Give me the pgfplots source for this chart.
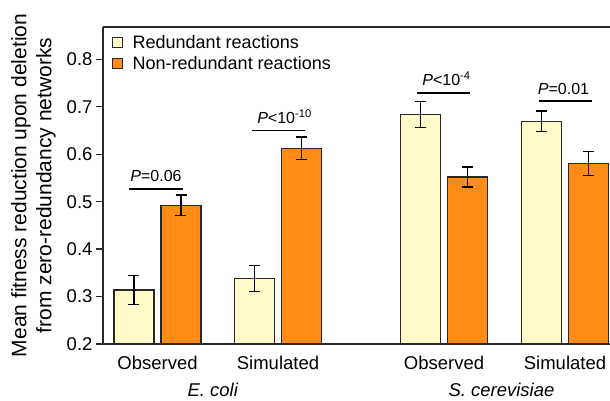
\documentclass[border=0pt]{standalone}
\usepackage{fontspec}
\setmainfont{Liberation Sans}
\usepackage{pgfplots}
\pgfplotsset{compat=1.18}
\definecolor{redyel}{RGB}{255,250,200}
\definecolor{nonorg}{RGB}{255,140,22}
\definecolor{edgegray}{RGB}{40,40,40}
\begin{document}
\begin{tikzpicture}
\useasboundingbox (-103pt,-57pt) rectangle (507pt,344pt);
\begin{axis}[
  at={(0pt,0pt)}, anchor=south west,
  scale only axis, width=507pt, height=317pt,
  xmin=1.03, xmax=6.10, ymin=0.2, ymax=0.868,
  axis x line*=box, axis y line*=left,
  axis line style={line width=1.3pt, edgegray},
  ytick={0.2,0.3,0.4,0.5,0.6,0.7,0.8},
  yticklabels={0.2,0.3,0.4,0.5,0.6,0.7,0.8},
  xtick={1.575,2.78,4.44,5.65},
  xticklabels={Observed,Simulated,Observed,Simulated},
  xtick style={draw=none},
  ytick style={line width=1.3pt, edgegray},
  tick align=outside, major tick length=7pt,
  tick label style={font=\fontsize{18.5}{21}\selectfont},
  xticklabel style={yshift=-2pt},
  ylabel={Mean fitness reduction upon deletion\\from zero-redundancy networks},
  ylabel style={font=\fontsize{21}{25}\selectfont, align=center, at={([xshift=-47pt]axis description cs:0,0.5)}, anchor=south, inner sep=0pt},
  legend style={at={(axis description cs:0,1)}, anchor=north west, xshift=6pt, yshift=-4pt, draw=none, fill=none,
    font=\fontsize{18}{20}\selectfont, row sep=2.5pt, cells={anchor=west}},
  clip=true,
]
\addplot[ybar, bar width=0.40, bar shift=0, fill=redyel, draw=edgegray, line width=1.3pt,
  legend image code/.code={\draw[fill=redyel, draw=edgegray, line width=1pt] (0pt,-5pt) rectangle (10pt,5pt); \path[draw=none, fill=none] (0pt,0pt) -- (18pt,0pt);},
  error bars/.cd, y dir=both, y explicit,
  error bar style={black, line width=1.2pt},
  error mark options={black, rotate=90, mark size=5.5pt, line width=1.2pt}]
  coordinates {(1.34,0.314) +- (0,0.031) (2.545,0.338) +- (0,0.028) (4.205,0.684) +- (0,0.027) (5.415,0.669) +- (0,0.022)};
\addlegendentry{Redundant reactions}
\addplot[ybar, bar width=0.40, bar shift=0, fill=nonorg, draw=edgegray, line width=1.3pt,
  legend image code/.code={\draw[fill=nonorg, draw=edgegray, line width=1pt] (0pt,-5pt) rectangle (10pt,5pt); \path[draw=none, fill=none] (0pt,0pt) -- (18pt,0pt);},
  error bars/.cd, y dir=both, y explicit,
  error bar style={black, line width=1.2pt},
  error mark options={black, rotate=90, mark size=5.5pt, line width=1.2pt}]
  coordinates {(1.81,0.492) +- (0,0.022) (3.015,0.612) +- (0,0.024) (4.675,0.552) +- (0,0.021) (5.885,0.580) +- (0,0.025)};
\addlegendentry{Non-redundant reactions}
% significance lines
\addplot[black, line width=1.4pt, forget plot] coordinates {(1.29,0.527) (1.83,0.527)};
\addplot[black, line width=1.4pt, forget plot] coordinates {(2.52,0.650) (3.05,0.650)};
\addplot[black, line width=1.4pt, forget plot] coordinates {(4.17,0.729) (4.70,0.729)};
\addplot[black, line width=1.4pt, forget plot] coordinates {(5.39,0.712) (5.92,0.712)};
\node[anchor=base, yshift=7pt, font=\fontsize{16}{19}\selectfont] at (axis cs:1.56,0.527) {\textit{P}=0.06};
\node[anchor=base, yshift=7pt, xshift=6pt, font=\fontsize{16}{19}\selectfont] at (axis cs:2.785,0.650) {\textit{P}<10\textsuperscript{-10}};
\node[anchor=base, yshift=7pt, xshift=3pt, font=\fontsize{16}{19}\selectfont] at (axis cs:4.435,0.729) {\textit{P}<10\textsuperscript{-4}};
\node[anchor=base, yshift=7pt, xshift=-2pt, font=\fontsize{16}{19}\selectfont] at (axis cs:5.655,0.712) {\textit{P}=0.01};
\end{axis}
\node[font=\fontsize{18.5}{21}\selectfont] at (110pt,-46pt) {\textit{E. coli}};
\node[font=\fontsize{18.5}{21}\selectfont] at (398.5pt,-46pt) {\textit{S. cerevisiae}};
\end{tikzpicture}
\end{document}
